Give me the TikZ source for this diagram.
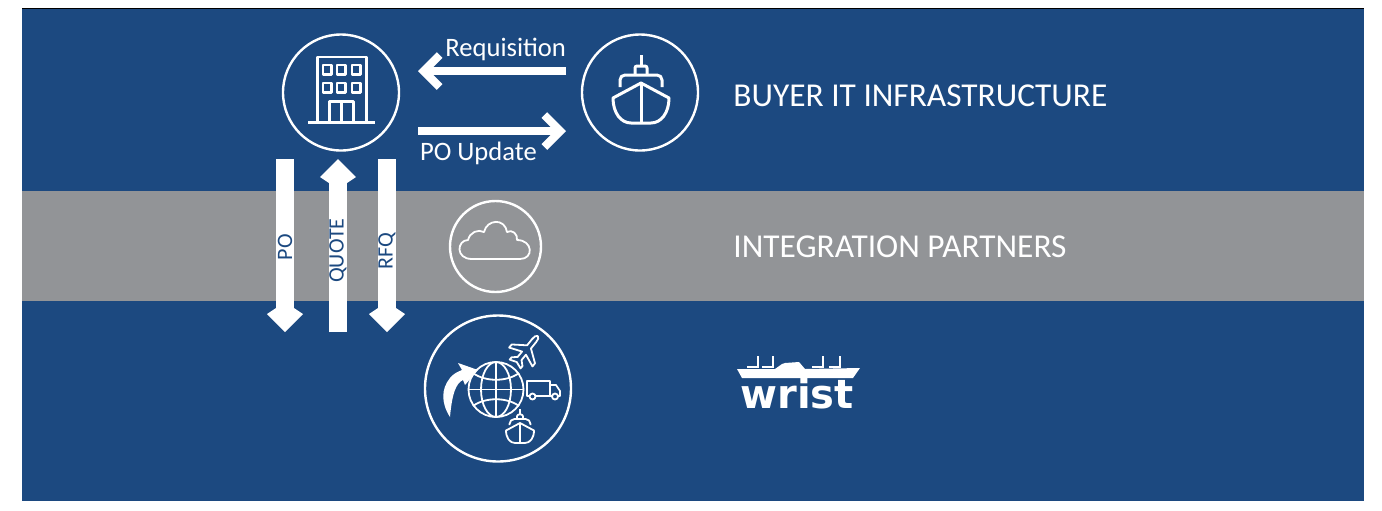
\documentclass[tikz,border=0pt]{standalone}
\usepackage{fontspec}
\setmainfont{Carlito}
\newfontfamily\logofont{DejaVu Sans}
\usetikzlibrary{positioning,arrows.meta}
\definecolor{wristblue}{HTML}{1C4980}
\definecolor{wristgray}{HTML}{929497}
\tikzset{
	iconcircle/.style={shape=circle,draw=white,line width=1.2pt,inner sep=0pt,outer sep=0pt},
	iconline/.style={draw=white,line width=1.2pt,line join=round},
	thinline/.style={draw=white,line width=.9pt,line join=round},
	flatarrow/.style={draw=white,line width=4pt,-{Straight Barb[length=8pt,width=16pt,line width=4pt]}},
	blockarrow/.style={draw=white,line width=9pt,-{Stealth[length=9pt,width=18pt,inset=-6pt,line width=0pt]},
		postaction={draw=white,-,shorten >=9pt}},
	flatlabel/.style={text=white,font=\fontsize{13.3}{14}\selectfont,inner sep=0pt,outer sep=0pt},
	blocklabel/.style={text=wristblue,font=\fontsize{11}{11}\selectfont,rotate=90,inner sep=0pt},
	bandlabel/.style={text=white,font=\fontsize{16.7}{17}\selectfont,anchor=base west,inner sep=0pt},
	pics/shipicon/.style={code={
		\draw[#1] (0,0) -- (0,11);
		\draw[#1,rounded corners=1pt] (-6,20) -- (-6,11) -- (6,11) -- (6,20);
		\draw[#1,rounded corners=2.5pt] (-21,32) -- (-21,20) -- (21,20) -- (21,32);
		\draw[#1] (0,28) -- (-28,43) .. controls (-28,58) and (-20,68) .. (-10,68) -- (10,68) .. controls (20,68) and (28,58) .. (28,43) -- cycle;
		\draw[#1] (0,28) -- (0,68);
	}}
}
\begin{document}
\begin{tikzpicture}[x=.5pt,y=-.5pt]
	\useasboundingbox (0,0) rectangle (1382,510);

	% the bands
	\fill[wristblue] (22,9) rectangle (1364,501);
	\fill[wristgray] (22,191) rectangle (1364,301);
	\draw[black,line width=.5pt] (22,8.5) -- (1364,8.5);

	% the four circles
	\node[iconcircle,minimum size=58pt] (office) at (341,92.5) {};
	\node[iconcircle,minimum size=58pt] (ship) at (640,92.5) {};
	\node[iconcircle,minimum size=45.5pt] (cloud) at (495.5,246.5) {};
	\node[iconcircle,minimum size=73pt] (globe) at (498,388.5) {};

	% arrow ends
	\coordinate (reqstart) at (566,71);
	\coordinate (reqend) at (418,71);
	\coordinate (updstart) at (418,131);
	\coordinate (updend) at (566,131);
	\coordinate (potop) at (285,159);
	\coordinate (pobottom) at (285,332);
	\coordinate (quotetop) at (338,159);
	\coordinate (quotebottom) at (338,332);
	\coordinate (rfqtop) at (387,159);
	\coordinate (rfqbottom) at (387,332);

	% between office and ship
	\draw[flatarrow] (reqstart) -- (reqend) node[pos=0,flatlabel,anchor=south east,yshift=5pt] (reqlabel) {Requisition};
	\draw[flatarrow] (updstart) -- (updend) node[pos=0,flatlabel,anchor=north west,xshift=1pt,yshift=-5.5pt] (updlabel) {PO Update};

	% through the gray band
	\draw[blockarrow] (potop) -- (pobottom) node[pos=.51,blocklabel] (polabel) {PO};
	\draw[blockarrow] (quotebottom) -- (quotetop) node[pos=.47,blocklabel] (quotelabel) {QUOTE};
	\draw[blockarrow] (rfqtop) -- (rfqbottom) node[pos=.53,blocklabel] (rfqlabel) {RFQ};

	% band texts
	\node[bandlabel] (buyer) at (733,106) {BUYER IT INFRASTRUCTURE};
	\node[bandlabel] (partners) at (733,257) {INTEGRATION PARTNERS};

	% the office building
	\draw[iconline] (317.5,122) -- (317.5,57) -- (366.5,57) -- (366.5,122);
	\draw[iconline] (308,122.5) -- (375,122.5);
	\foreach \wx in {323,337,352}
		\foreach \wy in {65,83}
			\draw[iconline] (\wx,\wy) rectangle ++(8.5,9.5);
	\draw[iconline] (329.5,122) -- (329.5,101.5) -- (353.5,101.5) -- (353.5,122);
	\draw[iconline] (341.5,101.5) -- (341.5,122);

	% the ship
	\pic at (641,55) {shipicon={iconline,line width=1.5pt}};

	% the cloud
	\draw[thinline] (472,259) .. controls (455,259) and (457,240) .. (468,240)
		.. controls (470,232) and (478,229) .. (484,232)
		.. controls (487,219) and (505,218) .. (507,232)
		.. controls (512,229) and (518,234) .. (517,240)
		.. controls (533,240) and (534,259) .. (520,259) -- cycle;

	% the globe
	\draw[thinline] (496,389.5) circle[radius=27.5];
	\draw[thinline] (496,389.5) ellipse[x radius=15,y radius=27.5];
	\draw[thinline] (496,362) -- (496,417);
	\draw[thinline] (468.5,389.5) -- (523.5,389.5);
	\draw[thinline] (473,373) .. controls (485,382) and (507,382) .. (519,373);
	\draw[thinline] (473,406) .. controls (485,397) and (507,397) .. (519,406);

	% the curved arrow
	\fill[white] (450,417) .. controls (441,403) and (441,389) .. (450,378)
		.. controls (453,374) and (457,372) .. (462,370) -- (458,363) -- (478,370) -- (465,385) -- (463,380)
		.. controls (456,383) and (452,394) .. (450,417) -- cycle;

	% the plane
	\begin{scope}[shift={(526.5,350)},rotate=51]
		\draw[thinline] (18,0) .. controls (18,-2) and (15,-2.5) .. (12,-2.5) -- (4,-2.5) -- (-5,-15) -- (-9,-15) -- (-4,-2.5) -- (-11,-2.5) -- (-15,-7) -- (-18,-7) -- (-15.5,0)
			-- (-18,7) -- (-15,7) -- (-11,2.5) -- (-4,2.5) -- (-9,15) -- (-5,15) -- (4,2.5) -- (12,2.5) .. controls (15,2.5) and (18,2) .. (18,0) -- cycle;
	\end{scope}

	% the truck
	\draw[thinline] (529,396) -- (527,396) -- (527,381) -- (550,381) -- (550,396) -- (536,396);
	\draw[thinline] (550,385) -- (556,385) -- (560,391) -- (560,396) -- (558,396);
	\draw[thinline] (552,396) -- (550,396);
	\draw[thinline] (532.5,396.5) circle[radius=3];
	\draw[thinline] (555,396.5) circle[radius=3];

	% the small ship
	\pic[scale=.5] at (520,409) {shipicon=thinline};

	% the logo
	\fill[white] (737,369) -- (775,369) -- (782,364) -- (785,363) -- (799,362) -- (805,369) -- (860,368) -- (853,378) -- (742,378) -- cycle;
	\foreach \cx in {758,773,823,840}
		\draw[white,line width=.9pt] (\cx,356) -- (\cx,367) -- (\cx-11,367);
	\node[text=white,font=\logofont\fontsize{20}{20}\bfseries\selectfont,anchor=base,inner sep=0pt] (wrist) at (797,408.5) {wrist};
\end{tikzpicture}
\end{document}
